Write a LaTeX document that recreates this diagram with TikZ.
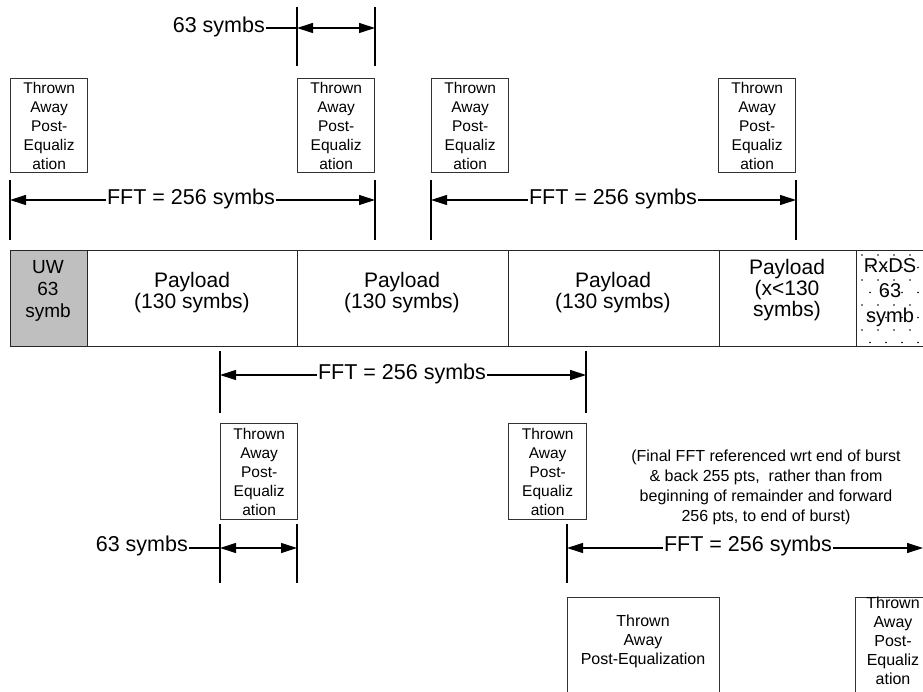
\documentclass[tikz,border=0pt]{standalone}
\usepackage{fontspec}
\setmainfont{Liberation Sans}
\usetikzlibrary{arrows.meta}
\begin{document}
\begin{tikzpicture}[x=1pt,y=-1pt,
  tickline/.style={line width=1.6pt,black},
  dimarrow/.style={line width=1.1pt,-{Triangle[length=16pt,width=10pt]}},
  leader/.style={line width=1.8pt},
  tabox/.style={draw=black!80,line width=1.3pt,align=center,inner sep=0pt,
    font=\fontsize{15.5}{19}\selectfont,anchor=north west},
  openbox/.style={draw=black!80,line width=1.3pt,inner sep=0pt,anchor=north west},
  smalltext/.style={align=center,inner sep=0pt,font=\fontsize{16}{19}\selectfont},
  biglabel/.style={inner sep=1pt,font=\fontsize{21.5}{21.5}\selectfont},
  seg/.style={draw=black!85,line width=1.3pt,anchor=north west,minimum height=96pt,
    align=center,inner sep=0pt,font=\fontsize{21}{21}\selectfont},
  segtext/.style={align=center,inner sep=0pt,font=\fontsize{21}{21}\selectfont},
  notetext/.style={align=center,inner sep=0pt,font=\fontsize{16}{20}\selectfont}
]
\useasboundingbox (0,0) rectangle (923,692);
\clip (0,0) rectangle (923,692);

% ---------- top "63 symbs"
\coordinate (t63a) at (297,7);  \coordinate (t63b) at (297,66);
\coordinate (t63c) at (375,7);  \coordinate (t63d) at (375,66);
\coordinate (t63l) at (297,28); \coordinate (t63r) at (375,28); \coordinate (t63m) at (336,28);
\draw[tickline] (t63a) -- (t63b);
\draw[tickline] (t63c) -- (t63d);
\node[biglabel,anchor=east] (s63top) at (266,27) {63 symbs};
\draw[leader] (s63top.east |- t63l) -- (t63l);
\draw[dimarrow] (t63m) -- (t63l);
\draw[dimarrow] (t63m) -- (t63r);
\fill (t63m) circle (0.9pt);

% ---------- top thrown-away boxes
\foreach \nm/\xx in {ta1/10,ta2/297,ta3/431,ta4/718}{
  \node[tabox,minimum width=77pt,minimum height=94pt] (\nm) at (\xx,78)
    {Thrown\\Away\\Post-\\Equaliz\\ation};
}

% ---------- FFT row 1
\coordinate (f1a) at (10,180);  \coordinate (f1b) at (10,240);
\coordinate (f1c) at (375,180); \coordinate (f1d) at (375,240);
\coordinate (f1l) at (10,200);  \coordinate (f1r) at (375,200);
\draw[tickline] (f1a) -- (f1b);
\draw[tickline] (f1c) -- (f1d);
\node[biglabel] (fft1) at (191,199) {FFT = 256 symbs};
\draw[dimarrow] (fft1.west |- f1l) -- (f1l);
\draw[dimarrow] (fft1.east |- f1r) -- (f1r);

% ---------- FFT row 2
\coordinate (f2a) at (431,180); \coordinate (f2b) at (431,240);
\coordinate (f2c) at (796,180); \coordinate (f2d) at (796,240);
\coordinate (f2l) at (431,200); \coordinate (f2r) at (796,200);
\draw[tickline] (f2a) -- (f2b);
\draw[tickline] (f2c) -- (f2d);
\node[biglabel] (fft2) at (613,199) {FFT = 256 symbs};
\draw[dimarrow] (fft2.west |- f2l) -- (f2l);
\draw[dimarrow] (fft2.east |- f2r) -- (f2r);

% ---------- main burst bar
\node[seg,fill=black!25,minimum width=77pt] (uw) at (10,250) {};
\node[seg,minimum width=210pt] (p1) at (87,250) {};
\node[seg,minimum width=211pt] (p2) at (297,250) {};
\node[seg,minimum width=211pt] (p3) at (508,250) {};
\node[seg,minimum width=137pt] (p4) at (719,250) {};
\node[seg,minimum width=80pt] (rx) at (856,250) {};
\node[segtext,font=\fontsize{19}{22}\selectfont] (uwt) at (48,291) {UW\\63\\symb};
\node[segtext] (p1t) at (192,293) {Payload\\(130 symbs)};
\node[segtext] (p2t) at (402,293) {Payload\\(130 symbs)};
\node[segtext] (p3t) at (613,293) {Payload\\(130 symbs)};
\node[segtext] (p4t) at (787,290) {Payload\\(x<130\\symbs)};
\foreach \r in {0,...,7}{
  \pgfmathsetmacro{\off}{mod(\r,2)==0 ? 0 : 8}
  \foreach \c in {0,...,4}{
    \fill (862+\off+16*\c,255+12.5*\r) circle (0.9pt);
  }
}
\node[inner sep=0pt,align=center,font=\fontsize{20}{25}\selectfont] (rxt) at (890,293) {RxDS\\63\\symb};

% ---------- FFT row 3
\coordinate (f3a) at (220,351); \coordinate (f3b) at (220,413);
\coordinate (f3c) at (586,351); \coordinate (f3d) at (586,413);
\coordinate (f3l) at (220,375); \coordinate (f3r) at (586,375);
\draw[tickline] (f3a) -- (f3b);
\draw[tickline] (f3c) -- (f3d);
\node[biglabel] (fft3) at (402,374) {FFT = 256 symbs};
\draw[dimarrow] (fft3.west |- f3l) -- (f3l);
\draw[dimarrow] (fft3.east |- f3r) -- (f3r);

% ---------- lower thrown-away boxes
\node[tabox,minimum width=77pt,minimum height=96pt] (tb1) at (220,423)
  {Thrown\\Away\\Post-\\Equaliz\\ation};
\node[tabox,minimum width=78pt,minimum height=96pt] (tb2) at (508,423)
  {Thrown\\Away\\Post-\\Equaliz\\ation};

% ---------- lower "63 symbs"
\coordinate (b63a) at (220,524); \coordinate (b63b) at (220,583);
\coordinate (b63c) at (297,524); \coordinate (b63d) at (297,583);
\coordinate (b63l) at (220,548); \coordinate (b63r) at (297,548); \coordinate (b63m) at (259,548);
\draw[tickline] (b63a) -- (b63b);
\draw[tickline] (b63c) -- (b63d);
\node[biglabel,anchor=east] (s63bot) at (189,546) {63 symbs};
\draw[leader] (s63bot.east |- b63l) -- (b63l);
\draw[dimarrow] (b63m) -- (b63l);
\draw[dimarrow] (b63m) -- (b63r);
\fill (b63m) circle (0.9pt);

% ---------- note
\node[notetext] (note) at (766,487)
  {(Final FFT referenced wrt end of burst\\
   \& back 255 pts,\ \ rather than from\\
   beginning of remainder and forward\\
   256 pts, to end of burst)};

% ---------- FFT row 4
\coordinate (f4a) at (567,524); \coordinate (f4b) at (567,583);
\coordinate (f4l) at (567,548); \coordinate (f4r) at (923,548);
\draw[tickline] (f4a) -- (f4b);
\node[biglabel] (fft4) at (748,546) {FFT = 256 symbs};
\draw[dimarrow] (fft4.west |- f4l) -- (f4l);
\draw[dimarrow] (fft4.east |- f4r) -- (f4r);

% ---------- bottom thrown-away boxes (cut by the page edge)
\node[openbox,minimum width=152pt,minimum height=120pt] (bb1) at (567,597) {};
\node[smalltext] (bb1t) at (643,641) {Thrown\\Away\\Post-Equalization};
\node[openbox,minimum width=76pt,minimum height=120pt] (bb2) at (855,597) {};
\node[smalltext] (bb2t) at (893,641) {Thrown\\Away\\Post-\\Equaliz\\ation};
\end{tikzpicture}
\end{document}
